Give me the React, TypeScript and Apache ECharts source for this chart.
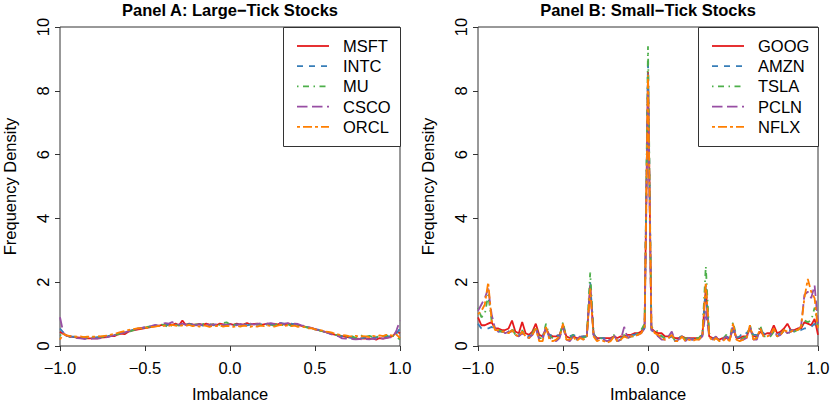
import React, { useEffect, useRef } from "react";
import * as echarts from "echarts";

// Bin centres of imbalance (step 0.02 from -1 to 1)
const BIN_STEP = 0.02;
const imbalanceBins: number[] = Array.from({ length: 101 }, (_, i) => Math.round((-1 + i * BIN_STEP) * 100) / 100);

const xTicks = [-1.0, -0.5, 0.0, 0.5, 1.0];
const yTicks = [0, 2, 4, 6, 8, 10];

const panelTitles = ["Panel A: Large\u2212Tick Stocks", "Panel B: Small\u2212Tick Stocks"];
const largeTickNames = ["MSFT", "INTC", "MU", "CSCO", "ORCL"];
const smallTickNames = ["GOOG", "AMZN", "TSLA", "PCLN", "NFLX"];

// Panel A densities
const MSFT = [
  0.45, 0.38, 0.32, 0.30, 0.28, 0.27, 0.26, 0.25, 0.24, 0.24,
  0.25, 0.24, 0.26, 0.27, 0.29, 0.32, 0.31, 0.36, 0.39, 0.37,
  0.44, 0.48, 0.50, 0.52, 0.54, 0.56, 0.58, 0.60, 0.62, 0.63,
  0.66, 0.64, 0.68, 0.66, 0.70, 0.65, 0.80, 0.66, 0.70, 0.68,
  0.67, 0.69, 0.66, 0.70, 0.67, 0.68, 0.65, 0.70, 0.68, 0.66,
  0.69,
  0.66, 0.70, 0.67, 0.68, 0.72, 0.67, 0.69, 0.70, 0.66, 0.68,
  0.70, 0.67, 0.69, 0.68, 0.71, 0.67, 0.70, 0.68, 0.69, 0.66,
  0.63, 0.61, 0.58, 0.56, 0.53, 0.50, 0.47, 0.44, 0.41, 0.38,
  0.35, 0.33, 0.31, 0.29, 0.27, 0.26, 0.24, 0.22, 0.24, 0.23,
  0.22, 0.24, 0.20, 0.25, 0.23, 0.26, 0.28, 0.32, 0.45, 0.40,
];
const INTC = [
  0.55, 0.42, 0.35, 0.30, 0.29, 0.27, 0.26, 0.26, 0.27, 0.25,
  0.26, 0.28, 0.27, 0.30, 0.31, 0.33, 0.35, 0.38, 0.40, 0.44,
  0.46, 0.49, 0.52, 0.55, 0.56, 0.58, 0.60, 0.62, 0.63, 0.65,
  0.64, 0.67, 0.66, 0.69, 0.67, 0.66, 0.68, 0.65, 0.69, 0.67,
  0.66, 0.68, 0.64, 0.67, 0.69, 0.65, 0.68, 0.66, 0.63, 0.67,
  0.66,
  0.64, 0.68, 0.66, 0.70, 0.65, 0.67, 0.69, 0.66, 0.68, 0.67,
  0.69, 0.66, 0.70, 0.68, 0.72, 0.69, 0.67, 0.70, 0.68, 0.65,
  0.64, 0.60, 0.59, 0.55, 0.52, 0.51, 0.46, 0.45, 0.40, 0.37,
  0.36, 0.32, 0.30, 0.31, 0.27, 0.25, 0.26, 0.24, 0.25, 0.27,
  0.25, 0.26, 0.28, 0.27, 0.30, 0.29, 0.31, 0.34, 0.40, 0.55,
];
const MU = [
  0.35, 0.30, 0.33, 0.28, 0.29, 0.26, 0.28, 0.27, 0.25, 0.28,
  0.27, 0.26, 0.29, 0.28, 0.30, 0.31, 0.34, 0.37, 0.39, 0.42,
  0.45, 0.47, 0.51, 0.53, 0.57, 0.58, 0.61, 0.60, 0.64, 0.62,
  0.67, 0.65, 0.58, 0.66, 0.68, 0.64, 0.67, 0.69, 0.66, 0.65,
  0.68, 0.66, 0.69, 0.67, 0.65, 0.68, 0.70, 0.66, 0.72, 0.74,
  0.68,
  0.66, 0.69, 0.67, 0.65, 0.70, 0.68, 0.66, 0.69, 0.67, 0.65,
  0.68, 0.66, 0.64, 0.69, 0.67, 0.65, 0.68, 0.63, 0.66, 0.64,
  0.62, 0.60, 0.57, 0.54, 0.52, 0.49, 0.47, 0.43, 0.41, 0.37,
  0.35, 0.33, 0.30, 0.29, 0.28, 0.30, 0.25, 0.27, 0.34, 0.29,
  0.32, 0.28, 0.30, 0.27, 0.31, 0.33, 0.30, 0.32, 0.28, 0.20,
];
const CSCO = [
  0.90, 0.40, 0.32, 0.29, 0.27, 0.25, 0.24, 0.22, 0.23, 0.22,
  0.24, 0.23, 0.25, 0.27, 0.28, 0.31, 0.34, 0.36, 0.40, 0.43,
  0.46, 0.49, 0.51, 0.55, 0.57, 0.59, 0.61, 0.63, 0.66, 0.64,
  0.68, 0.72, 0.70, 0.75, 0.69, 0.67, 0.70, 0.66, 0.69, 0.67,
  0.65, 0.68, 0.66, 0.69, 0.64, 0.67, 0.68, 0.65, 0.67, 0.66,
  0.68,
  0.67, 0.65, 0.69, 0.66, 0.68, 0.70, 0.67, 0.69, 0.71, 0.68,
  0.70, 0.72, 0.69, 0.74, 0.71, 0.70, 0.72, 0.68, 0.70, 0.69,
  0.65, 0.62, 0.59, 0.57, 0.53, 0.50, 0.47, 0.44, 0.40, 0.36,
  0.33, 0.30, 0.24, 0.23, 0.25, 0.22, 0.21, 0.22, 0.20, 0.22,
  0.21, 0.23, 0.22, 0.24, 0.23, 0.25, 0.27, 0.28, 0.50, 0.80,
];
const ORCL = [
  0.20, 0.38, 0.33, 0.31, 0.30, 0.29, 0.30, 0.28, 0.29, 0.30,
  0.29, 0.31, 0.30, 0.32, 0.33, 0.36, 0.38, 0.41, 0.44, 0.47,
  0.50, 0.52, 0.54, 0.56, 0.55, 0.58, 0.57, 0.60, 0.61, 0.63,
  0.62, 0.65, 0.63, 0.66, 0.64, 0.62, 0.65, 0.63, 0.66, 0.62,
  0.64, 0.61, 0.65, 0.63, 0.60, 0.64, 0.62, 0.65, 0.61, 0.63,
  0.62,
  0.60, 0.63, 0.61, 0.64, 0.62, 0.60, 0.63, 0.61, 0.64, 0.62,
  0.65, 0.63, 0.61, 0.64, 0.66, 0.63, 0.65, 0.62, 0.64, 0.60,
  0.61, 0.59, 0.55, 0.56, 0.52, 0.50, 0.49, 0.45, 0.44, 0.42,
  0.38, 0.36, 0.34, 0.33, 0.31, 0.30, 0.32, 0.29, 0.31, 0.30,
  0.28, 0.32, 0.30, 0.33, 0.31, 0.35, 0.34, 0.32, 0.36, 0.25,
];

// Panel B densities
const GOOG = [
  0.90, 0.65, 0.65, 0.70, 0.75, 0.55, 0.55, 0.50, 0.50, 0.55,
  0.80, 0.45, 0.40, 0.75, 0.40, 0.35, 0.45, 0.70, 0.35, 0.30,
  0.55, 0.35, 0.30, 0.30, 0.35, 0.65, 0.30, 0.25, 0.30, 0.25,
  0.25, 0.30, 0.30, 1.90, 0.35, 0.25, 0.25, 0.25, 0.25, 0.25,
  0.30, 0.25, 0.30, 0.30, 0.35, 0.35, 0.40, 0.40, 0.45, 0.60,
  8.60,
  0.55, 0.45, 0.40, 0.40, 0.30, 0.30, 0.30, 0.25, 0.25, 0.30,
  0.25, 0.25, 0.25, 0.25, 0.25, 0.35, 1.80, 0.30, 0.25, 0.25,
  0.20, 0.25, 0.25, 0.20, 0.55, 0.25, 0.25, 0.30, 0.30, 0.55,
  0.30, 0.30, 0.45, 0.35, 0.40, 0.40, 0.65, 0.40, 0.45, 0.55,
  0.70, 0.50, 0.50, 0.55, 0.55, 0.75, 0.70, 0.65, 0.85, 0.35,
];
const AMZN = [
  0.70, 0.55, 0.55, 0.55, 0.60, 0.50, 0.45, 0.45, 0.42, 0.40,
  0.50, 0.38, 0.35, 0.45, 0.35, 0.30, 0.35, 0.55, 0.30, 0.30,
  0.50, 0.30, 0.40, 0.35, 0.30, 0.55, 0.30, 0.30, 0.35, 0.30,
  0.30, 0.30, 0.30, 2.00, 0.35, 0.25, 0.25, 0.25, 0.20, 0.20,
  0.30, 0.20, 0.25, 0.30, 0.30, 0.35, 0.35, 0.40, 0.45, 0.55,
  9.00,
  0.50, 0.40, 0.30, 0.30, 0.30, 0.25, 0.30, 0.20, 0.25, 0.30,
  0.20, 0.25, 0.20, 0.25, 0.25, 0.35, 1.90, 0.30, 0.25, 0.25,
  0.20, 0.25, 0.30, 0.25, 0.50, 0.25, 0.30, 0.45, 0.40, 0.55,
  0.35, 0.35, 0.50, 0.40, 0.35, 0.35, 0.50, 0.35, 0.40, 0.45,
  0.50, 0.50, 0.45, 0.45, 0.50, 0.55, 0.55, 0.60, 0.70, 0.50,
];
const TSLA = [
  1.20, 0.90, 1.00, 1.60, 0.80, 0.55, 0.50, 0.45, 0.45, 0.45,
  0.55, 0.35, 0.30, 0.50, 0.30, 0.25, 0.40, 0.60, 0.25, 0.25,
  0.70, 0.30, 0.25, 0.20, 0.30, 0.75, 0.25, 0.20, 0.35, 0.20,
  0.30, 0.25, 0.30, 2.30, 0.40, 0.20, 0.25, 0.20, 0.15, 0.20,
  0.35, 0.15, 0.20, 0.35, 0.25, 0.30, 0.30, 0.40, 0.50, 0.70,
  9.40,
  0.60, 0.50, 0.45, 0.30, 0.25, 0.30, 0.35, 0.15, 0.20, 0.35,
  0.20, 0.30, 0.20, 0.25, 0.25, 0.40, 2.50, 0.40, 0.20, 0.30,
  0.15, 0.20, 0.35, 0.20, 0.75, 0.30, 0.20, 0.25, 0.30, 0.65,
  0.25, 0.25, 0.65, 0.30, 0.30, 0.30, 0.45, 0.30, 0.35, 0.50,
  0.45, 0.40, 0.45, 0.50, 0.55, 0.80, 0.75, 0.80, 1.20, 0.60,
];
const PCLN = [
  1.10, 1.30, 1.50, 1.80, 1.00, 0.55, 0.45, 0.50, 0.40, 0.45,
  0.45, 0.35, 0.30, 0.40, 0.30, 0.25, 0.35, 0.55, 0.20, 0.20,
  0.60, 0.25, 0.20, 0.15, 0.25, 0.60, 0.20, 0.15, 0.30, 0.20,
  0.30, 0.20, 0.30, 1.80, 0.35, 0.20, 0.20, 0.20, 0.15, 0.20,
  0.35, 0.15, 0.20, 0.60, 0.25, 0.30, 0.35, 0.35, 0.40, 0.55,
  8.00,
  0.50, 0.45, 0.30, 0.20, 0.20, 0.30, 0.45, 0.15, 0.20, 0.30,
  0.15, 0.25, 0.20, 0.20, 0.20, 0.30, 1.10, 0.30, 0.20, 0.30,
  0.15, 0.20, 0.30, 0.15, 0.65, 0.25, 0.20, 0.20, 0.25, 0.60,
  0.20, 0.20, 0.55, 0.30, 0.30, 0.35, 0.55, 0.30, 0.35, 0.50,
  0.40, 0.45, 0.50, 0.55, 0.60, 1.60, 1.70, 1.50, 1.90, 0.70,
];
const NFLX = [
  1.00, 1.10, 1.30, 2.00, 0.80, 0.50, 0.50, 0.45, 0.45, 0.40,
  0.50, 0.35, 0.30, 0.45, 0.30, 0.25, 0.35, 0.55, 0.15, 0.15,
  0.60, 0.20, 0.15, 0.20, 0.30, 0.70, 0.20, 0.20, 0.30, 0.15,
  0.25, 0.20, 0.30, 1.80, 0.30, 0.15, 0.20, 0.15, 0.10, 0.15,
  0.30, 0.15, 0.20, 0.30, 0.25, 0.30, 0.30, 0.35, 0.40, 0.60,
  8.50,
  0.60, 0.40, 0.35, 0.25, 0.20, 0.25, 0.35, 0.15, 0.15, 0.30,
  0.15, 0.20, 0.15, 0.20, 0.20, 0.35, 2.00, 0.30, 0.15, 0.25,
  0.15, 0.15, 0.25, 0.15, 0.70, 0.20, 0.15, 0.20, 0.25, 0.65,
  0.20, 0.25, 0.55, 0.30, 0.30, 0.35, 0.55, 0.30, 0.35, 0.50,
  0.45, 0.45, 0.50, 0.50, 0.60, 1.50, 2.10, 1.70, 1.50, 0.50,
];

const largeTickData = [MSFT, INTC, MU, CSCO, ORCL];
const smallTickData = [GOOG, AMZN, TSLA, PCLN, NFLX];

const COLORS = ["#E41A1C", "#377EB8", "#4DAF4A", "#984EA3", "#FF7F00"];
const LW = 1.8;
const DU = 1.5; // dash unit
const DASHES: any[] = [
  null,
  [4 * DU, 4 * DU],
  [1 * DU, 3 * DU, 4 * DU, 3 * DU],
  [7 * DU, 3 * DU],
  [2 * DU, 2 * DU, 6 * DU, 2 * DU],
];

const FONT = "Liberation Sans, Arial, Helvetica, sans-serif";
const TXT = "#000";
const AX = "#333";

const fmt = (v: number) => v.toFixed(1).replace("-", "\u2212");

export default function App() {
  const ref = useRef<HTMLDivElement>(null);
  useEffect(() => {
    if (!ref.current) return;
    const chart = echarts.init(ref.current, undefined, { renderer: "svg" });
    const grids = [
      { left: 60, top: 27, width: 340, height: 319 },
      { left: 478, top: 27, width: 340, height: 319 },
    ];
    const xAxes = grids.map((_, i) => ({
      type: "value",
      gridIndex: i,
      min: xTicks[0],
      max: xTicks[xTicks.length - 1],
      interval: 0.5,
      name: "Imbalance",
      nameLocation: "middle",
      nameGap: 39,
      nameTextStyle: { fontFamily: FONT, fontSize: 16.5, color: TXT },
      axisLine: { show: false, onZero: false },
      axisTick: { show: true, inside: false, length: 5, lineStyle: { color: AX, width: 1 } },
      axisLabel: { fontFamily: FONT, fontSize: 16.5, color: TXT, margin: 13, formatter: (v: number) => fmt(v) },
      splitLine: { show: false },
    }));
    const yAxes = grids.map((_, i) => ({
      type: "value",
      gridIndex: i,
      min: yTicks[0],
      max: yTicks[yTicks.length - 1],
      interval: 2,
      name: "Frequency Density",
      nameLocation: "middle",
      nameGap: 42,
      nameTextStyle: { fontFamily: FONT, fontSize: 16.5, color: TXT },
      axisLine: { show: false, onZero: false },
      axisTick: { show: true, inside: false, length: 5, lineStyle: { color: AX, width: 1 } },
      axisLabel: { fontFamily: FONT, fontSize: 16.5, color: TXT, margin: 9, rotate: 90 },
      splitLine: { show: false },
    }));
    const series: any[] = [];
    const panels = [
      { names: largeTickNames, data: largeTickData },
      { names: smallTickNames, data: smallTickData },
    ];
    panels.forEach((p, pi) => {
      p.names.forEach((nm, si) => {
        series.push({
          type: "line",
          name: nm,
          xAxisIndex: pi,
          yAxisIndex: pi,
          symbol: "none",
          showSymbol: false,
          data: imbalanceBins.map((x, k) => [x, p.data[si][k]]),
          lineStyle: { color: COLORS[si], width: LW, type: DASHES[si] || "solid" },
          itemStyle: { color: COLORS[si] },
          emphasis: { disabled: true },
        });
      });
    });

    // Manual legends (box + line samples + labels)
    const legendBoxes = [
      { x: 283, w: 117, names: largeTickNames },
      { x: 698, w: 120, names: smallTickNames },
    ];
    const graphics: any[] = [];
    legendBoxes.forEach((lb) => {
      graphics.push({
        type: "rect",
        shape: { x: lb.x + 0.5, y: 27.5, width: lb.w, height: 119 },
        style: { fill: "#fff", stroke: AX, lineWidth: 1 },
        z: 10,
      });
      lb.names.forEach((nm, i) => {
        const yy = 46 + i * 20.2;
        graphics.push({
          type: "line",
          shape: { x1: lb.x + 14, y1: yy, x2: lb.x + 46, y2: yy },
          style: { stroke: COLORS[i], lineWidth: LW, lineDash: DASHES[i] || undefined },
          z: 11,
        });
        graphics.push({
          type: "text",
          x: lb.x + 60,
          y: yy,
          style: { text: nm, fill: TXT, font: `16.5px ${FONT}`, verticalAlign: "middle", align: "left" },
          z: 11,
        });
      });
    });

    chart.setOption({
      animation: false,
      backgroundColor: "#fff",
      title: panelTitles.map((t, i) => ({
        text: t,
        left: i === 0 ? 230 : 648,
        textAlign: "center",
        top: 1,
        padding: 0,
        textStyle: { fontFamily: FONT, fontSize: 16.5, fontWeight: "bold", color: TXT },
      })),
      grid: grids.map((g) => ({
        ...g,
        outerBoundsMode: "none",
        containLabel: false,
        show: true,
        borderColor: AX,
        borderWidth: 1,
        backgroundColor: "transparent",
      })),
      xAxis: xAxes,
      yAxis: yAxes,
      graphic: graphics,
      series,
    });
    return () => chart.dispose();
  }, []);
  return <div ref={ref} style={{ position: "fixed", left: 0, top: 0, width: 830, height: 401 }} />;
}
